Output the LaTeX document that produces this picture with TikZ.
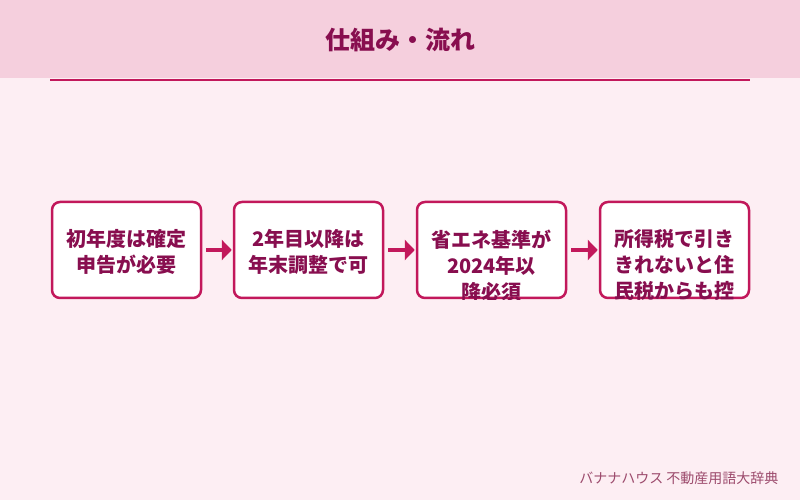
\documentclass[tikz,border=0pt]{standalone}
\usepackage{fontspec}
\setmainfont{Noto Sans CJK JP}
\usetikzlibrary{arrows.meta,positioning}
\definecolor{backpink}{HTML}{FDEEF3}
\definecolor{headpink}{HTML}{F5CFDD}
\definecolor{accent}{HTML}{C2185B}
\definecolor{ink}{HTML}{880E4F}
\definecolor{muted}{HTML}{9C4A6C}
\tikzset{
  stepbox/.style={draw=accent,line width=2.5pt,rounded corners=8pt,fill=white,
    minimum width=149pt,minimum height=96pt,inner sep=0pt},
  steptext/.style={font=\fontsize{20}{26}\selectfont\bfseries,text=ink,align=center,
    inner sep=0pt,anchor=north},
  stepclip/.style={rounded corners=9pt},
  arr/.style={-{Triangle[length=10pt,width=20pt]},line width=4pt,draw=accent,
    shorten <=4pt,shorten >=1pt},
  title/.style={font=\fontsize{25}{30}\selectfont\bfseries,text=ink},
  credit/.style={font=\fontsize{14}{16}\selectfont,text=muted,anchor=east},
}
\begin{document}
\begin{tikzpicture}[x=1pt,y=1pt]
  \fill[backpink] (0,0) rectangle (800,500);
  \useasboundingbox (0,0) rectangle (800,500);
  \fill[headpink] (0,422) rectangle (800,500);
  \node[title] (head) at (400,460) {仕組み・流れ};
  \coordinate (ruleL) at (50,420);
  \coordinate (ruleR) at (750,420);
  \draw[accent,line width=2pt] (ruleL) -- (ruleR);
  % steps
  \node[stepbox] (s1) at (126.5,250) {};
  \node[stepbox] (s2) at (308.5,250) {};
  \node[stepbox] (s3) at (491.5,250) {};
  \node[stepbox] (s4) at (674.5,250) {};
  % texts run over the box bottom and get cut
  \begin{scope}
    \clip[stepclip] (s1.south west) rectangle (s1.north east);
    \node[steptext] (t1) at ([yshift=20.5pt]s1.center) {初年度は確定\\申告が必要};
  \end{scope}
  \begin{scope}
    \clip[stepclip] (s2.south west) rectangle (s2.north east);
    \node[steptext] (t2) at ([yshift=20.5pt]s2.center) {2年目以降は\\年末調整で可};
  \end{scope}
  \begin{scope}
    \clip[stepclip] (s3.south west) rectangle (s3.north east);
    \node[steptext] (t3) at ([yshift=20.5pt]s3.center) {省エネ基準が\\2024年以\\降必須};
  \end{scope}
  \begin{scope}
    \clip[stepclip] (s4.south west) rectangle (s4.north east);
    \node[steptext] (t4) at ([yshift=20.5pt]s4.center) {所得税で引き\\きれないと住\\民税からも控};
  \end{scope}
  \draw[arr] (s1) -- (s2);
  \draw[arr] (s2) -- (s3);
  \draw[arr] (s3) -- (s4);
  \node[credit] (foot) at (782,22) {バナナハウス 不動産用語大辞典};
\end{tikzpicture}
\end{document}
